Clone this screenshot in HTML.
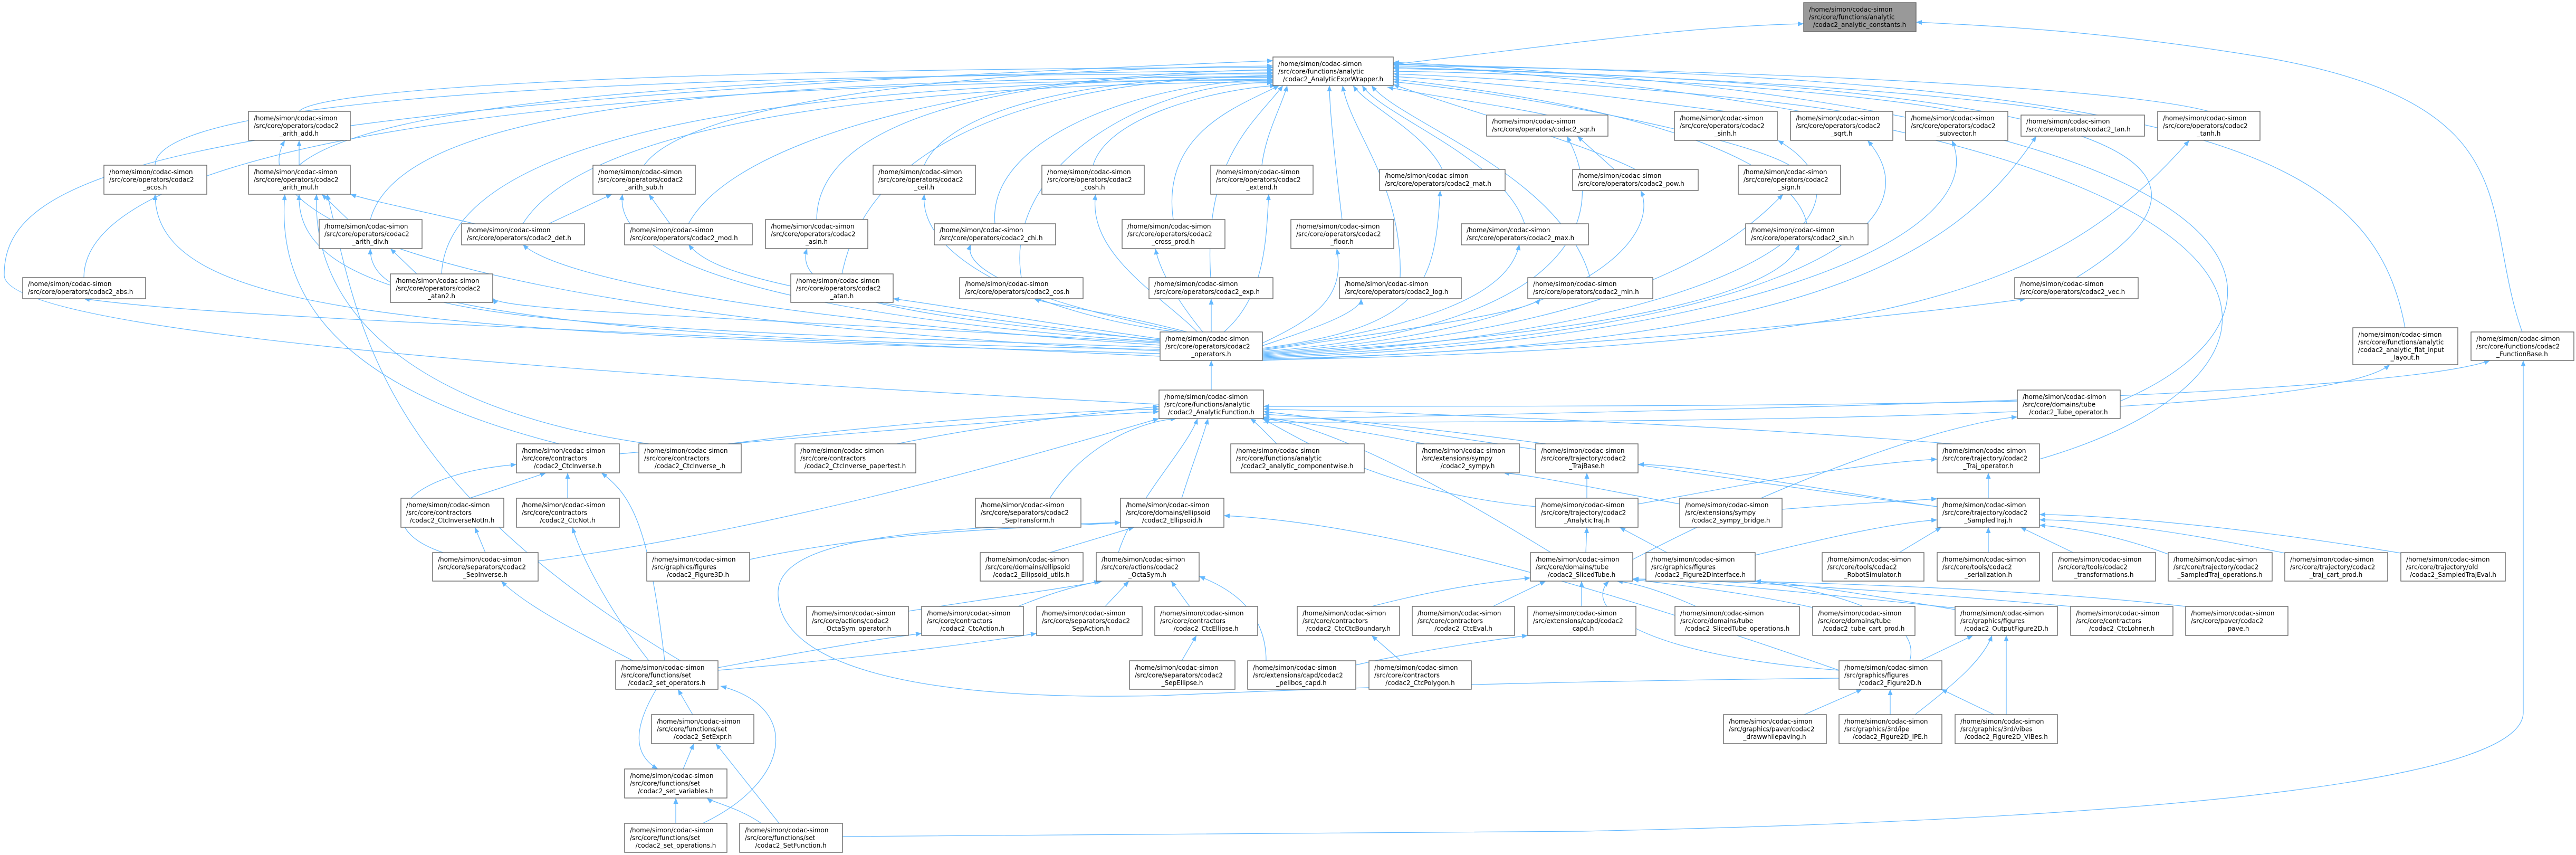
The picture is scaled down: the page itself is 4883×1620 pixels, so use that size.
<!DOCTYPE html>
<html><head><meta charset="utf-8"><style>
html,body{margin:0;padding:0;background:#fff;}
svg{display:block;}
.e path{fill:none;stroke:#63b8ff;stroke-width:1.2;}
.n rect{fill:#fff;stroke:#666;stroke-width:1.4;}
.n rect.g{fill:#999;}
text{font-family:"DejaVu Sans","Liberation Sans",sans-serif;font-size:12px;fill:#000;}
</style></head><body>
<svg width="4883" height="1620" viewBox="0 0 4883 1620" xmlns="http://www.w3.org/2000/svg">
<defs><marker id="a" markerUnits="userSpaceOnUse" markerWidth="12" markerHeight="10" refX="11" refY="4.5" orient="auto"><path d="M0,0 L11,4.5 L0,9 z" fill="#63b8ff"/></marker></defs>
<g class="e" marker-end="url(#a)">
<path marker-end="url(#a)" d="M2641,122 C3000,80 3200,50 3419,45"/>
<path marker-end="url(#a)" d="M4781,629 C4700,400 4800,200 4300,110 C4000,60 3800,50 3632,42"/>
<path marker-end="url(#a)" d="M159,526 C159,300 900,150 2413,152"/>
<path marker-end="url(#a)" d="M294,313 C294,200 1000,140 2413,140"/>
<path marker-end="url(#a)" d="M567,211 C600,170 1200,130 2413,128"/>
<path marker-end="url(#a)" d="M567,313 C700,200 1300,140 2413,134"/>
<path marker-end="url(#a)" d="M702,416 C760,200 1400,150 2413,145"/>
<path marker-end="url(#a)" d="M837,519 C850,250 1500,155 2413,150"/>
<path marker-end="url(#a)" d="M991,424 C1100,250 1600,160 2413,155"/>
<path marker-end="url(#a)" d="M1221,313 C1300,200 1800,130 2413,125"/>
<path marker-end="url(#a)" d="M1305,424 C1400,250 1900,140 2413,132"/>
<path marker-end="url(#a)" d="M1548,416 C1550,200 2000,140 2413,138"/>
<path marker-end="url(#a)" d="M1596,519 C1650,250 2000,150 2413,143"/>
<path marker-end="url(#a)" d="M1752,313 C1800,200 2100,140 2413,147"/>
<path marker-end="url(#a)" d="M1886,424 C1870,250 2200,150 2413,152"/>
<path marker-end="url(#a)" d="M1936,526 C1900,300 2200,150 2413,157"/>
<path marker-end="url(#a)" d="M2072,313 C2100,220 2300,170 2418,162"/>
<path marker-end="url(#a)" d="M2224,416 C2200,250 2350,200 2425,162"/>
<path marker-end="url(#a)" d="M2295,526 C2280,300 2380,230 2432,162"/>
<path marker-end="url(#a)" d="M2392,313 C2400,250 2430,200 2440,162"/>
<path marker-end="url(#a)" d="M2544,416 C2530,300 2520,200 2520,162"/>
<path marker-end="url(#a)" d="M2654,526 C2660,350 2560,250 2545,162"/>
<path marker-end="url(#a)" d="M2734,321 C2700,250 2590,200 2565,162"/>
<path marker-end="url(#a)" d="M2890,424 C2850,300 2620,220 2582,162"/>
<path marker-end="url(#a)" d="M3014,526 C2960,330 2650,230 2600,162"/>
<path marker-end="url(#a)" d="M2933,218 C2850,200 2700,180 2630,165"/>
<path marker-end="url(#a)" d="M3100,321 C3000,270 2750,200 2641,160"/>
<path marker-end="url(#a)" d="M3392,313 C3300,260 2900,180 2641,155"/>
<path marker-end="url(#a)" d="M3425,424 C3400,300 3100,200 2641,150"/>
<path marker-end="url(#a)" d="M3271,211 C3100,190 2900,160 2641,145"/>
<path marker-end="url(#a)" d="M3491,211 C3300,180 2900,150 2641,140"/>
<path marker-end="url(#a)" d="M3709,211 C3500,170 3000,140 2641,135"/>
<path marker-end="url(#a)" d="M3948,218 C3700,170 3000,135 2641,130"/>
<path marker-end="url(#a)" d="M4187,211 C4000,160 3200,130 2641,125"/>
<path marker-end="url(#a)" d="M3936,526 C4300,300 4000,160 2641,128"/>
<path marker-end="url(#a)" d="M4559,621 C4500,300 4200,150 2641,122"/>
<path marker-end="url(#a)" d="M4019,760 C4400,600 4400,200 2641,118"/>
<path marker-end="url(#a)" d="M3866,870 C4450,700 4450,250 2641,120"/>
<path marker-end="url(#a)" d="M2197,766 C900,700 0,620 8,520 C8,330 300,200 2413,115"/>
<path marker-end="url(#a)" d="M2199,675 C1000,620 400,600 159,566"/>
<path marker-end="url(#a)" d="M2199,670 C800,630 294,600 294,368"/>
<path marker-end="url(#a)" d="M2199,665 C900,600 450,420 540,266"/>
<path marker-end="url(#a)" d="M2199,662 C900,640 560,560 567,368"/>
<path marker-end="url(#a)" d="M2199,658 C1000,620 700,600 702,471"/>
<path marker-end="url(#a)" d="M2199,654 C1400,600 1050,520 991,463"/>
<path marker-end="url(#a)" d="M2199,650 C1400,600 950,590 934,565"/>
<path marker-end="url(#a)" d="M2199,648 C1500,600 1160,500 1180,368"/>
<path marker-end="url(#a)" d="M2199,646 C1500,560 1350,520 1305,463"/>
<path marker-end="url(#a)" d="M2199,644 C1700,600 1500,560 1530,471"/>
<path marker-end="url(#a)" d="M2199,642 C1900,600 1800,580 1693,566"/>
<path marker-end="url(#a)" d="M2230,629 C2000,600 1740,500 1752,368"/>
<path marker-end="url(#a)" d="M2240,629 C2000,580 1820,520 1840,463"/>
<path marker-end="url(#a)" d="M2250,629 C2100,590 2000,580 1960,566"/>
<path marker-end="url(#a)" d="M2270,629 C2200,560 2060,480 2077,368"/>
<path marker-end="url(#a)" d="M2280,629 C2240,580 2200,520 2190,471"/>
<path marker-end="url(#a)" d="M2296,629 L2296,566"/>
<path marker-end="url(#a)" d="M2320,629 C2400,560 2400,450 2405,368"/>
<path marker-end="url(#a)" d="M2393,650 C2500,600 2550,560 2534,471"/>
<path marker-end="url(#a)" d="M2393,655 C2500,620 2580,590 2580,566"/>
<path marker-end="url(#a)" d="M2393,660 C2700,620 2720,540 2730,361"/>
<path marker-end="url(#a)" d="M2393,662 C2700,620 2860,560 2880,463"/>
<path marker-end="url(#a)" d="M2393,664 C2700,620 2900,590 2920,566"/>
<path marker-end="url(#a)" d="M2393,666 C3000,620 3050,400 2970,258"/>
<path marker-end="url(#a)" d="M2393,668 C3000,630 3150,450 3110,361"/>
<path marker-end="url(#a)" d="M2393,670 C3100,630 3300,450 3380,368"/>
<path marker-end="url(#a)" d="M2393,672 C3100,630 3380,550 3410,463"/>
<path marker-end="url(#a)" d="M2393,674 C3300,630 3600,400 3370,266"/>
<path marker-end="url(#a)" d="M2393,676 C3300,640 3700,450 3540,266"/>
<path marker-end="url(#a)" d="M2393,678 C3300,650 3780,450 3700,266"/>
<path marker-end="url(#a)" d="M2393,680 C3400,660 3700,500 3860,258"/>
<path marker-end="url(#a)" d="M2393,682 C3600,660 3900,550 4150,266"/>
<path marker-end="url(#a)" d="M2393,683 C3000,660 3600,600 3840,566"/>
<path marker-end="url(#a)" d="M567,313 L567,266"/>
<path marker-end="url(#a)" d="M660,416 L610,368"/>
<path marker-end="url(#a)" d="M900,424 C800,400 700,380 664,368"/>
<path marker-end="url(#a)" d="M1040,424 L1160,368"/>
<path marker-end="url(#a)" d="M1270,424 L1230,368"/>
<path marker-end="url(#a)" d="M790,519 L740,471"/>
<path marker-end="url(#a)" d="M3060,321 L2990,258"/>
<path marker-end="url(#a)" d="M2296,739 L2296,683"/>
<path marker-end="url(#a)" d="M1060,841 C700,750 520,600 540,368"/>
<path marker-end="url(#a)" d="M1230,841 C800,780 590,600 600,368"/>
<path marker-end="url(#a)" d="M1290,1252 C700,900 680,600 620,368"/>
<path marker-end="url(#a)" d="M1174,860 C1600,820 2000,790 2197,780"/>
<path marker-end="url(#a)" d="M1380,841 C1700,800 2000,780 2197,775"/>
<path marker-end="url(#a)" d="M1700,841 C1900,800 2100,780 2197,770"/>
<path marker-end="url(#a)" d="M1990,944 C2050,850 2150,800 2230,793"/>
<path marker-end="url(#a)" d="M2240,944 C2260,880 2280,830 2290,793"/>
<path marker-end="url(#a)" d="M2420,841 C2400,820 2380,800 2370,793"/>
<path marker-end="url(#a)" d="M2700,841 C2550,810 2450,800 2395,790"/>
<path marker-end="url(#a)" d="M2930,841 C2700,810 2500,790 2395,785"/>
<path marker-end="url(#a)" d="M2911,960 C2600,930 2450,820 2395,795"/>
<path marker-end="url(#a)" d="M2940,1047 C2700,900 2500,800 2390,793"/>
<path marker-end="url(#a)" d="M2120,1047 C2150,950 2250,850 2270,793"/>
<path marker-end="url(#a)" d="M3700,841 C3200,800 2600,780 2395,775"/>
<path marker-end="url(#a)" d="M3672,960 C3200,900 2600,800 2395,780"/>
<path marker-end="url(#a)" d="M3824,760 C3400,770 2800,770 2395,770"/>
<path marker-end="url(#a)" d="M1020,1063 C1500,1000 2000,850 2197,793"/>
<path marker-end="url(#a)" d="M1421,1060 C1700,1000 2000,1000 2124,990"/>
<path marker-end="url(#a)" d="M1990,1047 L2150,999"/>
<path marker-end="url(#a)" d="M3486,1270 C3000,1100 2600,990 2320,977"/>
<path marker-end="url(#a)" d="M3486,1285 C3000,1290 2600,1300 2200,1318 C1700,1330 1470,1250 1475,1120 C1480,1010 1800,1000 2124,990"/>
<path marker-end="url(#a)" d="M1722,1158 C1900,1130 2050,1110 2085,1101"/>
<path marker-end="url(#a)" d="M1930,1149 C2000,1120 2060,1105 2090,1101"/>
<path marker-end="url(#a)" d="M2095,1149 L2140,1101"/>
<path marker-end="url(#a)" d="M2255,1149 L2220,1101"/>
<path marker-end="url(#a)" d="M2400,1252 C2400,1150 2320,1110 2273,1092"/>
<path marker-end="url(#a)" d="M2240,1252 L2268,1204"/>
<path marker-end="url(#a)" d="M1361,1265 C1500,1240 1600,1220 1747,1200"/>
<path marker-end="url(#a)" d="M1361,1270 C1600,1250 1850,1220 1965,1200"/>
<path marker-end="url(#a)" d="M1313,1354 L1285,1306"/>
<path marker-end="url(#a)" d="M1295,1457 L1315,1409"/>
<path marker-end="url(#a)" d="M1244,1306 C1200,1380 1200,1430 1247,1457"/>
<path marker-end="url(#a)" d="M1281,1560 L1281,1512"/>
<path marker-end="url(#a)" d="M1443,1560 C1400,1530 1350,1520 1340,1512"/>
<path marker-end="url(#a)" d="M1477,1560 L1357,1409"/>
<path marker-end="url(#a)" d="M1332,1560 C1500,1480 1520,1340 1366,1300"/>
<path marker-end="url(#a)" d="M1597,1585 L3000,1575 C4200,1550 4783,1470 4783,1350 L4783,683"/>
<path marker-end="url(#a)" d="M1260,1252 C1230,1000 1200,940 1140,896"/>
<path marker-end="url(#a)" d="M1230,1252 C1150,1150 1100,1050 1085,999"/>
<path marker-end="url(#a)" d="M1200,1252 C1100,1200 1000,1150 950,1101"/>
<path marker-end="url(#a)" d="M890,944 L1035,896"/>
<path marker-end="url(#a)" d="M1076,944 L1076,896"/>
<path marker-end="url(#a)" d="M920,1047 L900,999"/>
<path marker-end="url(#a)" d="M840,1047 C700,1000 750,900 979,880"/>
<path marker-end="url(#a)" d="M3008,944 L3008,896"/>
<path marker-end="url(#a)" d="M3184,955 C3000,920 2900,900 2850,896"/>
<path marker-end="url(#a)" d="M3378,965 C3500,955 3600,950 3672,945"/>
<path marker-end="url(#a)" d="M3006,1047 L3008,999"/>
<path marker-end="url(#a)" d="M3160,1047 L3070,999"/>
<path marker-end="url(#a)" d="M3327,1052 C3500,1010 3600,990 3672,985"/>
<path marker-end="url(#a)" d="M3095,1060 C3400,900 3700,800 3824,790"/>
<path marker-end="url(#a)" d="M3600,1047 L3680,999"/>
<path marker-end="url(#a)" d="M3105,955 C3300,920 3500,880 3672,870"/>
<path marker-end="url(#a)" d="M3672,960 C3400,920 3200,880 3105,880"/>
<path marker-end="url(#a)" d="M3769,944 L3769,896"/>
<path marker-end="url(#a)" d="M3769,1047 L3769,999"/>
<path marker-end="url(#a)" d="M3930,1047 L3830,999"/>
<path marker-end="url(#a)" d="M4110,1050 C4000,1010 3920,1000 3866,995"/>
<path marker-end="url(#a)" d="M4331,1048 C4100,1000 3950,985 3866,985"/>
<path marker-end="url(#a)" d="M4551,1048 C4200,990 3950,975 3866,975"/>
<path marker-end="url(#a)" d="M2600,1149 C2750,1110 2850,1100 2901,1095"/>
<path marker-end="url(#a)" d="M2830,1149 L2930,1101"/>
<path marker-end="url(#a)" d="M2998,1149 L2998,1101"/>
<path marker-end="url(#a)" d="M3215,1149 C3150,1120 3100,1105 3065,1101"/>
<path marker-end="url(#a)" d="M3440,1152 C3300,1120 3150,1105 3095,1098"/>
<path marker-end="url(#a)" d="M3486,1270 C3100,1240 3000,1150 3050,1101"/>
<path marker-end="url(#a)" d="M3706,1152 C3400,1120 3200,1100 3095,1097"/>
<path marker-end="url(#a)" d="M3925,1149 C3600,1120 3300,1100 3095,1097"/>
<path marker-end="url(#a)" d="M4143,1149 C3800,1110 3300,1100 3095,1097"/>
<path marker-end="url(#a)" d="M3620,1252 C3650,1150 3400,1110 3327,1101"/>
<path marker-end="url(#a)" d="M3706,1155 C3500,1120 3400,1105 3327,1101"/>
<path marker-end="url(#a)" d="M2570,1260 C2700,1230 2850,1210 2896,1204"/>
<path marker-end="url(#a)" d="M2655,1252 L2600,1204"/>
<path marker-end="url(#a)" d="M3420,1354 L3530,1306"/>
<path marker-end="url(#a)" d="M3583,1354 L3583,1306"/>
<path marker-end="url(#a)" d="M3780,1354 L3680,1306"/>
<path marker-end="url(#a)" d="M3640,1252 L3740,1204"/>
<path marker-end="url(#a)" d="M3630,1354 C3700,1300 3760,1250 3776,1204"/>
<path marker-end="url(#a)" d="M3803,1354 L3803,1204"/>
<path marker-end="url(#a)" d="M2395,795 C3000,780 4500,760 4720,683"/>
<path marker-end="url(#a)" d="M2395,800 C3000,800 4400,800 4530,691"/>
</g>
<g class="n">
<rect class="g" x="3419" y="5" width="213" height="55"/><text x="3429" y="22">/home/simon/codac-simon</text><text x="3429" y="36.5">/src/core/functions/analytic</text><text x="3525" y="51" text-anchor="middle">/codac2_analytic_constants.h</text>
<rect x="2413" y="108" width="228" height="54"/><text x="2423" y="125">/home/simon/codac-simon</text><text x="2423" y="139.5">/src/core/functions/analytic</text><text x="2527" y="154" text-anchor="middle">/codac2_AnalyticExprWrapper.h</text>
<rect x="471" y="211" width="193" height="55"/><text x="481" y="228">/home/simon/codac-simon</text><text x="481" y="242.5">/src/core/operators/codac2</text><text x="567" y="257" text-anchor="middle">_arith_add.h</text>
<rect x="197" y="313" width="195" height="55"/><text x="207" y="330">/home/simon/codac-simon</text><text x="207" y="344.5">/src/core/operators/codac2</text><text x="294" y="359" text-anchor="middle">_acos.h</text>
<rect x="471" y="313" width="193" height="55"/><text x="481" y="330">/home/simon/codac-simon</text><text x="481" y="344.5">/src/core/operators/codac2</text><text x="567" y="359" text-anchor="middle">_arith_mul.h</text>
<rect x="605" y="416" width="195" height="55"/><text x="615" y="433">/home/simon/codac-simon</text><text x="615" y="447.5">/src/core/operators/codac2</text><text x="702" y="462" text-anchor="middle">_arith_div.h</text>
<rect x="875" y="424" width="233" height="40"/><text x="885" y="440">/home/simon/codac-simon</text><text x="885" y="455">/src/core/operators/codac2_det.h</text>
<rect x="43" y="526" width="233" height="40"/><text x="53" y="542">/home/simon/codac-simon</text><text x="53" y="557">/src/core/operators/codac2_abs.h</text>
<rect x="740" y="519" width="194" height="54"/><text x="750" y="536">/home/simon/codac-simon</text><text x="750" y="550.5">/src/core/operators/codac2</text><text x="837" y="565" text-anchor="middle">_atan2.h</text>
<rect x="1124" y="313" width="194" height="55"/><text x="1134" y="330">/home/simon/codac-simon</text><text x="1134" y="344.5">/src/core/operators/codac2</text><text x="1221" y="359" text-anchor="middle">_arith_sub.h</text>
<rect x="1184" y="424" width="242" height="40"/><text x="1194" y="440">/home/simon/codac-simon</text><text x="1194" y="455">/src/core/operators/codac2_mod.h</text>
<rect x="1451" y="416" width="194" height="55"/><text x="1461" y="433">/home/simon/codac-simon</text><text x="1461" y="447.5">/src/core/operators/codac2</text><text x="1548" y="462" text-anchor="middle">_asin.h</text>
<rect x="1499" y="519" width="194" height="54"/><text x="1509" y="536">/home/simon/codac-simon</text><text x="1509" y="550.5">/src/core/operators/codac2</text><text x="1596" y="565" text-anchor="middle">_atan.h</text>
<rect x="1655" y="313" width="194" height="55"/><text x="1665" y="330">/home/simon/codac-simon</text><text x="1665" y="344.5">/src/core/operators/codac2</text><text x="1752" y="359" text-anchor="middle">_ceil.h</text>
<rect x="1771" y="424" width="230" height="40"/><text x="1781" y="440">/home/simon/codac-simon</text><text x="1781" y="455">/src/core/operators/codac2_chi.h</text>
<rect x="1819" y="526" width="234" height="40"/><text x="1829" y="542">/home/simon/codac-simon</text><text x="1829" y="557">/src/core/operators/codac2_cos.h</text>
<rect x="1975" y="313" width="194" height="55"/><text x="1985" y="330">/home/simon/codac-simon</text><text x="1985" y="344.5">/src/core/operators/codac2</text><text x="2072" y="359" text-anchor="middle">_cosh.h</text>
<rect x="2127" y="416" width="195" height="55"/><text x="2137" y="433">/home/simon/codac-simon</text><text x="2137" y="447.5">/src/core/operators/codac2</text><text x="2224" y="462" text-anchor="middle">_cross_prod.h</text>
<rect x="2178" y="526" width="235" height="40"/><text x="2188" y="542">/home/simon/codac-simon</text><text x="2188" y="557">/src/core/operators/codac2_exp.h</text>
<rect x="2295" y="313" width="194" height="55"/><text x="2305" y="330">/home/simon/codac-simon</text><text x="2305" y="344.5">/src/core/operators/codac2</text><text x="2392" y="359" text-anchor="middle">_extend.h</text>
<rect x="2199" y="629" width="194" height="54"/><text x="2209" y="646">/home/simon/codac-simon</text><text x="2209" y="660.5">/src/core/operators/codac2</text><text x="2296" y="675" text-anchor="middle">_operators.h</text>
<rect x="2197" y="739" width="198" height="54"/><text x="2207" y="756">/home/simon/codac-simon</text><text x="2207" y="770.5">/src/core/functions/analytic</text><text x="2296" y="785" text-anchor="middle">/codac2_AnalyticFunction.h</text>
<rect x="2818" y="218" width="230" height="40"/><text x="2828" y="234">/home/simon/codac-simon</text><text x="2828" y="249">/src/core/operators/codac2_sqr.h</text>
<rect x="3174" y="211" width="195" height="55"/><text x="3184" y="228">/home/simon/codac-simon</text><text x="3184" y="242.5">/src/core/operators/codac2</text><text x="3271" y="257" text-anchor="middle">_sinh.h</text>
<rect x="3394" y="211" width="194" height="55"/><text x="3404" y="228">/home/simon/codac-simon</text><text x="3404" y="242.5">/src/core/operators/codac2</text><text x="3491" y="257" text-anchor="middle">_sqrt.h</text>
<rect x="3612" y="211" width="194" height="55"/><text x="3622" y="228">/home/simon/codac-simon</text><text x="3622" y="242.5">/src/core/operators/codac2</text><text x="3709" y="257" text-anchor="middle">_subvector.h</text>
<rect x="2615" y="321" width="238" height="40"/><text x="2625" y="337">/home/simon/codac-simon</text><text x="2625" y="352">/src/core/operators/codac2_mat.h</text>
<rect x="2981" y="321" width="238" height="40"/><text x="2991" y="337">/home/simon/codac-simon</text><text x="2991" y="352">/src/core/operators/codac2_pow.h</text>
<rect x="3295" y="313" width="194" height="55"/><text x="3305" y="330">/home/simon/codac-simon</text><text x="3305" y="344.5">/src/core/operators/codac2</text><text x="3392" y="359" text-anchor="middle">_sign.h</text>
<rect x="2447" y="416" width="195" height="55"/><text x="2457" y="433">/home/simon/codac-simon</text><text x="2457" y="447.5">/src/core/operators/codac2</text><text x="2544" y="462" text-anchor="middle">_floor.h</text>
<rect x="2770" y="424" width="241" height="40"/><text x="2780" y="440">/home/simon/codac-simon</text><text x="2780" y="455">/src/core/operators/codac2_max.h</text>
<rect x="3309" y="424" width="232" height="40"/><text x="3319" y="440">/home/simon/codac-simon</text><text x="3319" y="455">/src/core/operators/codac2_sin.h</text>
<rect x="2539" y="526" width="231" height="40"/><text x="2549" y="542">/home/simon/codac-simon</text><text x="2549" y="557">/src/core/operators/codac2_log.h</text>
<rect x="2896" y="526" width="237" height="40"/><text x="2906" y="542">/home/simon/codac-simon</text><text x="2906" y="557">/src/core/operators/codac2_min.h</text>
<rect x="3831" y="218" width="234" height="40"/><text x="3841" y="234">/home/simon/codac-simon</text><text x="3841" y="249">/src/core/operators/codac2_tan.h</text>
<rect x="4090" y="211" width="194" height="55"/><text x="4100" y="228">/home/simon/codac-simon</text><text x="4100" y="242.5">/src/core/operators/codac2</text><text x="4187" y="257" text-anchor="middle">_tanh.h</text>
<rect x="3819" y="526" width="234" height="40"/><text x="3829" y="542">/home/simon/codac-simon</text><text x="3829" y="557">/src/core/operators/codac2_vec.h</text>
<rect x="4460" y="621" width="199" height="70"/><text x="4470" y="638">/home/simon/codac-simon</text><text x="4470" y="652.5">/src/core/functions/analytic</text><text x="4470" y="667">/codac2_analytic_flat_input</text><text x="4559" y="681.5" text-anchor="middle">_layout.h</text>
<rect x="4684" y="629" width="195" height="54"/><text x="4694" y="646">/home/simon/codac-simon</text><text x="4694" y="660.5">/src/core/functions/codac2</text><text x="4781" y="675" text-anchor="middle">_FunctionBase.h</text>
<rect x="3824" y="739" width="195" height="54"/><text x="3834" y="756">/home/simon/codac-simon</text><text x="3834" y="770.5">/src/core/domains/tube</text><text x="3921" y="785" text-anchor="middle">/codac2_Tube_operator.h</text>
<rect x="979" y="841" width="195" height="55"/><text x="989" y="858">/home/simon/codac-simon</text><text x="989" y="872.5">/src/core/contractors</text><text x="1076" y="887" text-anchor="middle">/codac2_CtcInverse.h</text>
<rect x="760" y="944" width="195" height="55"/><text x="770" y="961">/home/simon/codac-simon</text><text x="770" y="975.5">/src/core/contractors</text><text x="857" y="990" text-anchor="middle">/codac2_CtcInverseNotIn.h</text>
<rect x="979" y="944" width="195" height="55"/><text x="989" y="961">/home/simon/codac-simon</text><text x="989" y="975.5">/src/core/contractors</text><text x="1076" y="990" text-anchor="middle">/codac2_CtcNot.h</text>
<rect x="820" y="1047" width="200" height="54"/><text x="830" y="1064">/home/simon/codac-simon</text><text x="830" y="1078.5">/src/core/separators/codac2</text><text x="920" y="1093" text-anchor="middle">_SepInverse.h</text>
<rect x="1167" y="1252" width="194" height="54"/><text x="1177" y="1269">/home/simon/codac-simon</text><text x="1177" y="1283.5">/src/core/functions/set</text><text x="1264" y="1298" text-anchor="middle">/codac2_set_operators.h</text>
<rect x="1211" y="841" width="194" height="55"/><text x="1221" y="858">/home/simon/codac-simon</text><text x="1221" y="872.5">/src/core/contractors</text><text x="1308" y="887" text-anchor="middle">/codac2_CtcInverse_.h</text>
<rect x="1507" y="841" width="229" height="55"/><text x="1517" y="858">/home/simon/codac-simon</text><text x="1517" y="872.5">/src/core/contractors</text><text x="1621" y="887" text-anchor="middle">/codac2_CtcInverse_papertest.h</text>
<rect x="1849" y="944" width="200" height="55"/><text x="1859" y="961">/home/simon/codac-simon</text><text x="1859" y="975.5">/src/core/separators/codac2</text><text x="1949" y="990" text-anchor="middle">_SepTransform.h</text>
<rect x="2124" y="944" width="196" height="55"/><text x="2134" y="961">/home/simon/codac-simon</text><text x="2134" y="975.5">/src/core/domains/ellipsoid</text><text x="2222" y="990" text-anchor="middle">/codac2_Ellipsoid.h</text>
<rect x="2333" y="841" width="253" height="55"/><text x="2343" y="858">/home/simon/codac-simon</text><text x="2343" y="872.5">/src/core/functions/analytic</text><text x="2459" y="887" text-anchor="middle">/codac2_analytic_componentwise.h</text>
<rect x="1226" y="1047" width="195" height="54"/><text x="1236" y="1064">/home/simon/codac-simon</text><text x="1236" y="1078.5">/src/graphics/figures</text><text x="1323" y="1093" text-anchor="middle">/codac2_Figure3D.h</text>
<rect x="1858" y="1047" width="195" height="54"/><text x="1868" y="1064">/home/simon/codac-simon</text><text x="1868" y="1078.5">/src/core/domains/ellipsoid</text><text x="1955" y="1093" text-anchor="middle">/codac2_Ellipsoid_utils.h</text>
<rect x="2078" y="1047" width="195" height="54"/><text x="2088" y="1064">/home/simon/codac-simon</text><text x="2088" y="1078.5">/src/core/actions/codac2</text><text x="2175" y="1093" text-anchor="middle">_OctaSym.h</text>
<rect x="1529" y="1149" width="193" height="55"/><text x="1539" y="1166">/home/simon/codac-simon</text><text x="1539" y="1180.5">/src/core/actions/codac2</text><text x="1625" y="1195" text-anchor="middle">_OctaSym_operator.h</text>
<rect x="1747" y="1149" width="193" height="55"/><text x="1757" y="1166">/home/simon/codac-simon</text><text x="1757" y="1180.5">/src/core/contractors</text><text x="1843" y="1195" text-anchor="middle">/codac2_CtcAction.h</text>
<rect x="1965" y="1149" width="200" height="55"/><text x="1975" y="1166">/home/simon/codac-simon</text><text x="1975" y="1180.5">/src/core/separators/codac2</text><text x="2065" y="1195" text-anchor="middle">_SepAction.h</text>
<rect x="2189" y="1149" width="195" height="55"/><text x="2199" y="1166">/home/simon/codac-simon</text><text x="2199" y="1180.5">/src/core/contractors</text><text x="2286" y="1195" text-anchor="middle">/codac2_CtcEllipse.h</text>
<rect x="2141" y="1252" width="200" height="54"/><text x="2151" y="1269">/home/simon/codac-simon</text><text x="2151" y="1283.5">/src/core/separators/codac2</text><text x="2241" y="1298" text-anchor="middle">_SepEllipse.h</text>
<rect x="2365" y="1252" width="205" height="54"/><text x="2375" y="1269">/home/simon/codac-simon</text><text x="2375" y="1283.5">/src/extensions/capd/codac2</text><text x="2467" y="1298" text-anchor="middle">_pelibos_capd.h</text>
<rect x="1235" y="1354" width="194" height="55"/><text x="1245" y="1371">/home/simon/codac-simon</text><text x="1245" y="1385.5">/src/core/functions/set</text><text x="1332" y="1400" text-anchor="middle">/codac2_SetExpr.h</text>
<rect x="1184" y="1457" width="194" height="55"/><text x="1194" y="1474">/home/simon/codac-simon</text><text x="1194" y="1488.5">/src/core/functions/set</text><text x="1281" y="1503" text-anchor="middle">/codac2_set_variables.h</text>
<rect x="1184" y="1560" width="194" height="55"/><text x="1194" y="1577">/home/simon/codac-simon</text><text x="1194" y="1591.5">/src/core/functions/set</text><text x="1281" y="1606" text-anchor="middle">/codac2_set_operations.h</text>
<rect x="1402" y="1560" width="195" height="55"/><text x="1412" y="1577">/home/simon/codac-simon</text><text x="1412" y="1591.5">/src/core/functions/set</text><text x="1499" y="1606" text-anchor="middle">/codac2_SetFunction.h</text>
<rect x="2685" y="841" width="195" height="55"/><text x="2695" y="858">/home/simon/codac-simon</text><text x="2695" y="872.5">/src/extensions/sympy</text><text x="2782" y="887" text-anchor="middle">/codac2_sympy.h</text>
<rect x="2911" y="841" width="194" height="55"/><text x="2921" y="858">/home/simon/codac-simon</text><text x="2921" y="872.5">/src/core/trajectory/codac2</text><text x="3008" y="887" text-anchor="middle">_TrajBase.h</text>
<rect x="2911" y="944" width="194" height="55"/><text x="2921" y="961">/home/simon/codac-simon</text><text x="2921" y="975.5">/src/core/trajectory/codac2</text><text x="3008" y="990" text-anchor="middle">_AnalyticTraj.h</text>
<rect x="3184" y="944" width="194" height="55"/><text x="3194" y="961">/home/simon/codac-simon</text><text x="3194" y="975.5">/src/extensions/sympy</text><text x="3281" y="990" text-anchor="middle">/codac2_sympy_bridge.h</text>
<rect x="2901" y="1047" width="194" height="54"/><text x="2911" y="1064">/home/simon/codac-simon</text><text x="2911" y="1078.5">/src/core/domains/tube</text><text x="2998" y="1093" text-anchor="middle">/codac2_SlicedTube.h</text>
<rect x="3120" y="1047" width="207" height="54"/><text x="3130" y="1064">/home/simon/codac-simon</text><text x="3130" y="1078.5">/src/graphics/figures</text><text x="3223" y="1093" text-anchor="middle">/codac2_Figure2DInterface.h</text>
<rect x="3454" y="1047" width="193" height="54"/><text x="3464" y="1064">/home/simon/codac-simon</text><text x="3464" y="1078.5">/src/core/tools/codac2</text><text x="3550" y="1093" text-anchor="middle">_RobotSimulator.h</text>
<rect x="2459" y="1149" width="194" height="55"/><text x="2469" y="1166">/home/simon/codac-simon</text><text x="2469" y="1180.5">/src/core/contractors</text><text x="2556" y="1195" text-anchor="middle">/codac2_CtcCtcBoundary.h</text>
<rect x="2677" y="1149" width="194" height="55"/><text x="2687" y="1166">/home/simon/codac-simon</text><text x="2687" y="1180.5">/src/core/contractors</text><text x="2774" y="1195" text-anchor="middle">/codac2_CtcEval.h</text>
<rect x="2896" y="1149" width="205" height="55"/><text x="2906" y="1166">/home/simon/codac-simon</text><text x="2906" y="1180.5">/src/extensions/capd/codac2</text><text x="2998" y="1195" text-anchor="middle">_capd.h</text>
<rect x="3175" y="1149" width="236" height="55"/><text x="3185" y="1166">/home/simon/codac-simon</text><text x="3185" y="1180.5">/src/core/domains/tube</text><text x="3293" y="1195" text-anchor="middle">/codac2_SlicedTube_operations.h</text>
<rect x="3436" y="1149" width="194" height="55"/><text x="3446" y="1166">/home/simon/codac-simon</text><text x="3446" y="1180.5">/src/core/domains/tube</text><text x="3533" y="1195" text-anchor="middle">/codac2_tube_cart_prod.h</text>
<rect x="2595" y="1252" width="194" height="54"/><text x="2605" y="1269">/home/simon/codac-simon</text><text x="2605" y="1283.5">/src/core/contractors</text><text x="2692" y="1298" text-anchor="middle">/codac2_CtcPolygon.h</text>
<rect x="3486" y="1252" width="195" height="54"/><text x="3496" y="1269">/home/simon/codac-simon</text><text x="3496" y="1283.5">/src/graphics/figures</text><text x="3583" y="1298" text-anchor="middle">/codac2_Figure2D.h</text>
<rect x="3267" y="1354" width="195" height="55"/><text x="3277" y="1371">/home/simon/codac-simon</text><text x="3277" y="1385.5">/src/graphics/paver/codac2</text><text x="3364" y="1400" text-anchor="middle">_drawwhilepaving.h</text>
<rect x="3486" y="1354" width="195" height="55"/><text x="3496" y="1371">/home/simon/codac-simon</text><text x="3496" y="1385.5">/src/graphics/3rd/ipe</text><text x="3583" y="1400" text-anchor="middle">/codac2_Figure2D_IPE.h</text>
<rect x="3672" y="841" width="194" height="55"/><text x="3682" y="858">/home/simon/codac-simon</text><text x="3682" y="872.5">/src/core/trajectory/codac2</text><text x="3769" y="887" text-anchor="middle">_Traj_operator.h</text>
<rect x="3672" y="944" width="194" height="55"/><text x="3682" y="961">/home/simon/codac-simon</text><text x="3682" y="975.5">/src/core/trajectory/codac2</text><text x="3769" y="990" text-anchor="middle">_SampledTraj.h</text>
<rect x="3672" y="1047" width="194" height="54"/><text x="3682" y="1064">/home/simon/codac-simon</text><text x="3682" y="1078.5">/src/core/tools/codac2</text><text x="3769" y="1093" text-anchor="middle">_serialization.h</text>
<rect x="3891" y="1047" width="195" height="54"/><text x="3901" y="1064">/home/simon/codac-simon</text><text x="3901" y="1078.5">/src/core/tools/codac2</text><text x="3988" y="1093" text-anchor="middle">_transformations.h</text>
<rect x="4110" y="1047" width="197" height="54"/><text x="4120" y="1064">/home/simon/codac-simon</text><text x="4120" y="1078.5">/src/core/trajectory/codac2</text><text x="4208" y="1093" text-anchor="middle">_SampledTraj_operations.h</text>
<rect x="4331" y="1047" width="195" height="54"/><text x="4341" y="1064">/home/simon/codac-simon</text><text x="4341" y="1078.5">/src/core/trajectory/codac2</text><text x="4428" y="1093" text-anchor="middle">_traj_cart_prod.h</text>
<rect x="4551" y="1047" width="198" height="54"/><text x="4561" y="1064">/home/simon/codac-simon</text><text x="4561" y="1078.5">/src/core/trajectory/old</text><text x="4650" y="1093" text-anchor="middle">/codac2_SampledTrajEval.h</text>
<rect x="3706" y="1149" width="194" height="55"/><text x="3716" y="1166">/home/simon/codac-simon</text><text x="3716" y="1180.5">/src/graphics/figures</text><text x="3803" y="1195" text-anchor="middle">/codac2_OutputFigure2D.h</text>
<rect x="3925" y="1149" width="194" height="55"/><text x="3935" y="1166">/home/simon/codac-simon</text><text x="3935" y="1180.5">/src/core/contractors</text><text x="4022" y="1195" text-anchor="middle">/codac2_CtcLohner.h</text>
<rect x="4143" y="1149" width="194" height="55"/><text x="4153" y="1166">/home/simon/codac-simon</text><text x="4153" y="1180.5">/src/core/paver/codac2</text><text x="4240" y="1195" text-anchor="middle">_pave.h</text>
<rect x="3706" y="1354" width="194" height="55"/><text x="3716" y="1371">/home/simon/codac-simon</text><text x="3716" y="1385.5">/src/graphics/3rd/vibes</text><text x="3803" y="1400" text-anchor="middle">/codac2_Figure2D_VIBes.h</text>
</g>
</svg>
</body></html>
